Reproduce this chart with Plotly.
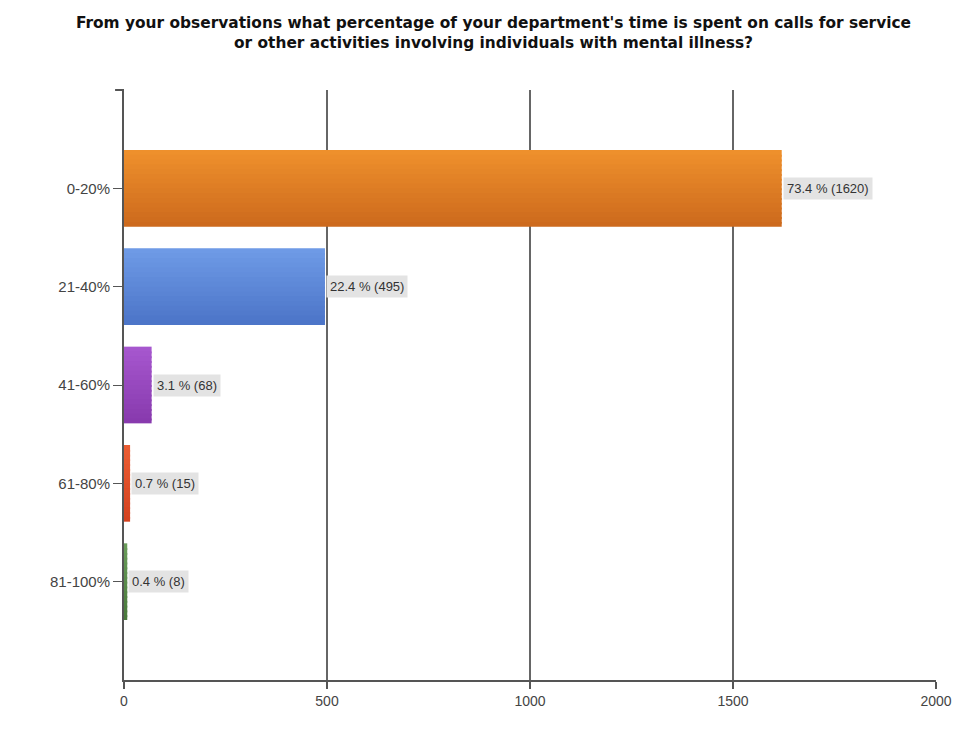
import plotly.graph_objects as go

categories = ["0-20%", "21-40%", "41-60%", "61-80%", "81-100%"]
counts = [1620, 495, 68, 15, 8]
percents = [73.4, 22.4, 3.1, 0.7, 0.4]
top_colors = ["#EE902C", "#6E9AE6", "#A657CE", "#EA5C32", "#6A9C5A"]
bottom_colors = ["#CD6A1D", "#4C75C8", "#883AAE", "#D44220", "#4A7A3C"]
x_ticks = [0, 500, 1000, 1500, 2000]

title_text = ("<b>From your observations what percentage of your department's time is spent on calls for service"
              "<br>or other activities involving individuals with mental illness?</b>")


def hex_to_rgb(h):
    h = h.lstrip("#")
    return tuple(int(h[i:i + 2], 16) for i in (0, 2, 4))


def mix(c1, c2, t):
    a, b = hex_to_rgb(c1), hex_to_rgb(c2)
    return "rgb(%d,%d,%d)" % tuple(round(a[i] + (b[i] - a[i]) * t) for i in range(3))


bar_width = 0.78
n_bands = 16
band = bar_width / n_bands

fig = go.Figure()
for k in range(n_bands):
    t = k / (n_bands - 1)
    w = band if k == n_bands - 1 else band + 0.02
    fig.add_trace(go.Bar(
        y=categories, x=counts, orientation="h",
        marker=dict(color=[mix(a, b, t) for a, b in zip(top_colors, bottom_colors)],
                    line=dict(width=0)),
        width=w, offset=-bar_width / 2 + k * band,
        hoverinfo="skip", showlegend=False,
    ))

for c, v, p in zip(categories, counts, percents):
    fig.add_annotation(
        x=v, y=c, xref="x", yref="y", xanchor="left", yanchor="middle",
        xshift=1, showarrow=False,
        text=f"{p} % ({v})",
        font=dict(family="Arial, Liberation Sans, sans-serif", size=13, color="#333333"),
        bgcolor="#E3E3E3", borderpad=3,
    )

fig.update_layout(
    width=971, height=730,
    margin=dict(l=116, r=43, t=82, b=58),
    paper_bgcolor="white", plot_bgcolor="white",
    showlegend=False, barmode="overlay",
    title=dict(text=title_text, x=0.5, xanchor="center", y=0.972, yanchor="top",
               font=dict(family="DejaVu Sans, sans-serif", size=15.4, color="#111111")),
    font=dict(family="Arial, Liberation Sans, sans-serif", size=14, color="#444444"),
)
fig.update_xaxes(
    range=[0, 2000], tickvals=x_ticks, ticktext=[str(t) for t in x_ticks],
    showgrid=True, gridcolor="#666666", gridwidth=2,
    zeroline=False, showline=True, linecolor="#555555", linewidth=2,
    ticks="outside", ticklen=7, tickcolor="#555555", tickwidth=2,
    tickfont=dict(size=14, color="#444444"), fixedrange=True,
)
fig.update_yaxes(
    type="category", categoryorder="array", categoryarray=categories,
    range=[5, -1],
    showgrid=False, zeroline=False, showline=True, linecolor="#555555", linewidth=2,
    ticks="outside", ticklen=9, tickcolor="#555555", tickwidth=1,
    tickfont=dict(size=15, color="#444444"), fixedrange=True,
)
fig.add_shape(type="line", xref="paper", yref="paper", x0=-0.011, x1=0, y0=1, y1=1,
              line=dict(color="#555555", width=2))

fig.write_html("out.html", config={"displayModeBar": False})
